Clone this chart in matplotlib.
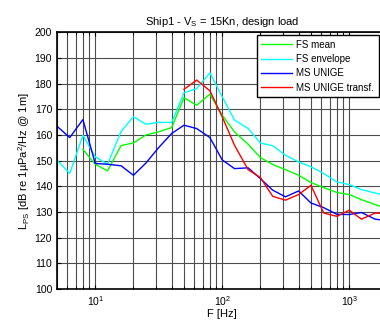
import numpy as np
import matplotlib
matplotlib.use('Agg')
import matplotlib.pyplot as plt
from matplotlib.ticker import LogLocator, NullFormatter, FixedLocator

plt.rcParams['font.family'] = ['Liberation Sans', 'DejaVu Sans']
plt.rcParams['mathtext.fontset'] = 'custom'
plt.rcParams['mathtext.rm'] = 'Liberation Sans'
plt.rcParams['mathtext.it'] = 'Liberation Sans:italic'

# 1/3 octave band centres
f_all = [5, 6.3, 8, 10, 12.5, 16, 20, 25, 31.5, 40, 50, 63, 80, 100, 125, 160,
         200, 250, 315, 400, 500, 630, 800, 1000, 1250, 1600, 2000]

fs_mean = [154.4, 148.6, 146.0, 155.9, 156.9, 160.0, 161.2, 162.9, 174.5, 171.6,
           175.9, 167.7, 161.2, 156.4, 151.2, 148.5, 146.5, 144.3, 141.5, 139.5,
           137.6, 136.8, 134.8, 132.9, 131.2]
fs_env = [150.2, 145.0, 159.9, 151.5, 148.6, 161.4, 167.1, 164.2, 164.9, 164.9,
          176.4, 178.1, 184.2, 174.9, 165.8, 162.5, 156.9, 155.8, 152.1, 149.5,
          147.6, 145.0, 141.7, 140.7, 138.7, 137.4, 136.2]
ms_unige = [163.4, 159.0, 166.0, 148.9, 148.6, 148.0, 144.3, 149.0, 155.0, 160.6,
            163.8, 162.5, 159.0, 150.3, 146.9, 147.2, 143.0, 138.5, 135.9, 138.2,
            133.5, 131.7, 129.1, 129.0, 129.8, 127.2, 126.6]
ms_transf = [177.8, 181.4, 177.2, 167.1, 156.0, 146.5, 143.4, 136.1, 134.6, 136.8,
             140.4, 129.6, 128.3, 130.7, 127.2, 129.6, 129.3]

fig = plt.figure(figsize=(3.8, 3.24), dpi=100)
ax = fig.add_axes([57 / 380, 35 / 324, 330.4 / 380, 256.7 / 324])

ax.semilogx(f_all[2:], fs_mean, color=(0, 1, 0), lw=1, label='FS mean')
ax.semilogx(f_all, fs_env, color=(0, 1, 1), lw=1, label='FS envelope')
ax.semilogx(f_all, ms_unige, color=(0, 0, 1), lw=1, label='MS UNIGE')
ax.semilogx(f_all[10:], ms_transf, color=(1, 0, 0), lw=1, label='MS UNIGE transf.')

ax.set_xlim(5, 2000)
ax.set_ylim(100, 200)
ax.yaxis.set_major_locator(FixedLocator(np.arange(100, 201, 10)))
ax.xaxis.set_major_locator(LogLocator(base=10))
ax.xaxis.set_minor_locator(LogLocator(base=10, subs=np.arange(2, 10)))
ax.xaxis.set_minor_formatter(NullFormatter())

ax.grid(True, which='major', color='0.3', lw=0.8)
ax.grid(True, which='minor', axis='x', color='0.3', lw=0.8)
ax.set_axisbelow(True)
ax.tick_params(which='both', direction='in', top=True, right=True, labelsize=7.5,
               length=3)
ax.tick_params(which='minor', length=2)
for s in ax.spines.values():
    s.set_linewidth(1.2)

ax.set_title(r'Ship1 - V$_{\rm S}$ = 15Kn, design load', fontsize=8, pad=5)
ax.set_xlabel('F [Hz]', fontsize=8, labelpad=1)
ax.set_ylabel(r'L$_{\rm PS}$ [dB re 1µPa$^{2}$/Hz @ 1m]', fontsize=8, labelpad=2)

leg = ax.legend(loc='upper left', bbox_to_anchor=((257 - 57) / 330.4, 1 - 3 / 256.7),
                fontsize=7, fancybox=False, framealpha=1, edgecolor='black',
                borderaxespad=0, handlelength=3.2, handletextpad=0.4,
                labelspacing=0.45, borderpad=0.45)
leg.get_frame().set_linewidth(1)

fig.savefig('out.png', dpi=100)
